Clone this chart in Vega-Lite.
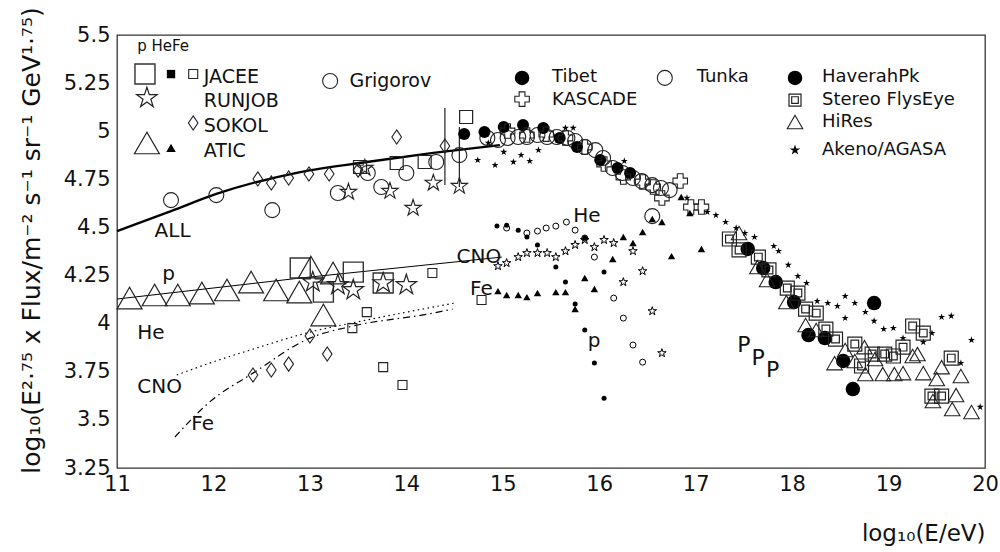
{
"$schema":"https://vega.github.io/schema/vega-lite/v6.json",
"width":868,"height":433,
"autosize":{"type":"none"},
"padding":{"left":117,"top":35,"right":15,"bottom":84},
"background":"white",
"config":{"view":{"stroke":"#333","strokeWidth":1.3},"font":"DejaVu Sans"},
"datasets":{
"lines":[
{"c":"ALL","x":11.00,"y":4.481},{"c":"ALL","x":11.56,"y":4.585},{"c":"ALL","x":12.03,"y":4.674},{"c":"ALL","x":12.90,"y":4.788},{"c":"ALL","x":13.59,"y":4.840},{"c":"ALL","x":14.28,"y":4.887},{"c":"ALL","x":14.97,"y":4.928},
{"c":"p","x":11.00,"y":4.128},{"c":"p","x":12.90,"y":4.237},{"c":"p","x":14.99,"y":4.346},
{"c":"CNO","x":11.62,"y":3.733},{"c":"CNO","x":11.96,"y":3.795},{"c":"CNO","x":12.38,"y":3.863},{"c":"CNO","x":13.00,"y":3.956},{"c":"CNO","x":13.59,"y":4.019},{"c":"CNO","x":14.50,"y":4.107},
{"c":"Fe","x":11.60,"y":3.411},{"c":"Fe","x":11.96,"y":3.593},{"c":"Fe","x":12.41,"y":3.743},{"c":"Fe","x":13.00,"y":3.925},{"c":"Fe","x":13.45,"y":3.988},{"c":"Fe","x":14.28,"y":4.055},{"c":"Fe","x":14.48,"y":4.076}
],
"bars":[{"x":14.40,"y":5.121,"y2":4.720},{"x":14.55,"y":5.022,"y2":4.710}],
"labels":[
{"t":"ALL","x":11.39,"y":4.450,"g":"c"},{"t":"p","x":11.47,"y":4.227,"g":"c"},{"t":"He","x":11.21,"y":3.920,"g":"c"},{"t":"CNO","x":11.21,"y":3.639,"g":"c"},{"t":"Fe","x":11.77,"y":3.447,"g":"c"},
{"t":"CNO","x":14.52,"y":4.315,"g":"c"},{"t":"Fe","x":14.66,"y":4.149,"g":"c"},{"t":"He","x":15.73,"y":4.528,"g":"c"},{"t":"p","x":15.88,"y":3.878,"g":"c"},
{"t":"P","x":17.43,"y":3.852,"g":"P"},{"t":"P","x":17.58,"y":3.785,"g":"P"},{"t":"P","x":17.73,"y":3.722,"g":"P"},
{"t":"p HeFe","x":11.21,"y":5.417,"g":"h"},
{"t":"JACEE","x":11.90,"y":5.251,"g":"L"},{"t":"RUNJOB","x":11.90,"y":5.126,"g":"L"},{"t":"SOKOL","x":11.90,"y":4.996,"g":"L"},{"t":"ATIC","x":11.90,"y":4.866,"g":"L"},{"t":"Grigorov","x":13.41,"y":5.230,"g":"L"},
{"t":"Tibet","x":15.51,"y":5.256,"g":"R"},{"t":"KASCADE","x":15.51,"y":5.136,"g":"R"},{"t":"Tunka","x":17.01,"y":5.256,"g":"R"},{"t":"HaverahPk","x":18.31,"y":5.256,"g":"R"},{"t":"Stereo FlysEye","x":18.31,"y":5.136,"g":"R"},{"t":"HiRes","x":18.31,"y":5.022,"g":"R"},{"t":"Akeno/AGASA","x":18.31,"y":4.876,"g":"R"}
],
"pts":[
{"s":"JACEE p","x":12.90,"y":4.289},{"s":"JACEE p","x":13.14,"y":4.164},{"s":"JACEE p","x":13.45,"y":4.268},{"s":"JACEE p","x":13.76,"y":4.211},
{"s":"JACEE all","x":13.52,"y":4.814},{"s":"JACEE all","x":13.90,"y":4.835},{"s":"JACEE all","x":14.19,"y":4.840},{"s":"JACEE all","x":14.62,"y":5.074},
{"s":"JACEE Fe","x":14.27,"y":4.263},{"s":"JACEE Fe","x":13.59,"y":4.060},{"s":"JACEE Fe","x":13.44,"y":3.977},{"s":"JACEE Fe","x":13.76,"y":3.774},{"s":"JACEE Fe","x":13.96,"y":3.681},{"s":"JACEE Fe","x":14.78,"y":4.123},
{"s":"RUNJOB p","x":13.03,"y":4.216},{"s":"RUNJOB p","x":13.29,"y":4.201},{"s":"RUNJOB p","x":13.45,"y":4.175},{"s":"RUNJOB p","x":13.76,"y":4.211},{"s":"RUNJOB p","x":14.00,"y":4.201},
{"s":"RUNJOB all","x":13.40,"y":4.684},{"s":"RUNJOB all","x":13.57,"y":4.809},{"s":"RUNJOB all","x":13.83,"y":4.689},{"s":"RUNJOB all","x":14.07,"y":4.601},{"s":"RUNJOB all","x":14.28,"y":4.731},{"s":"RUNJOB all","x":14.55,"y":4.715},
{"s":"SOKOL","x":12.46,"y":4.752},{"s":"SOKOL","x":12.60,"y":4.731},{"s":"SOKOL","x":12.78,"y":4.757},{"s":"SOKOL","x":12.99,"y":4.778},{"s":"SOKOL","x":13.20,"y":4.778},{"s":"SOKOL","x":13.50,"y":4.798},{"s":"SOKOL","x":13.90,"y":4.970},{"s":"SOKOL","x":14.40,"y":4.923},
{"s":"SOKOL","x":12.41,"y":3.733},{"s":"SOKOL","x":12.60,"y":3.759},{"s":"SOKOL","x":12.78,"y":3.790},{"s":"SOKOL","x":13.00,"y":3.936},{"s":"SOKOL","x":13.18,"y":3.842},
{"s":"ATIC p","x":11.13,"y":4.133},{"s":"ATIC p","x":11.39,"y":4.149},{"s":"ATIC p","x":11.63,"y":4.149},{"s":"ATIC p","x":11.88,"y":4.159},{"s":"ATIC p","x":12.14,"y":4.175},{"s":"ATIC p","x":12.39,"y":4.216},{"s":"ATIC p","x":12.65,"y":4.175},{"s":"ATIC p","x":12.89,"y":4.164},{"s":"ATIC p","x":13.01,"y":4.294},{"s":"ATIC p","x":13.24,"y":4.263},{"s":"ATIC p","x":13.14,"y":4.045},
{"s":"Grigorov","x":11.56,"y":4.642},{"s":"Grigorov","x":12.03,"y":4.668},{"s":"Grigorov","x":12.61,"y":4.590},{"s":"Grigorov","x":13.29,"y":4.679},{"s":"Grigorov","x":13.60,"y":4.783},{"s":"Grigorov","x":13.74,"y":4.710},{"s":"Grigorov","x":14.00,"y":4.783},{"s":"Grigorov","x":14.31,"y":4.840},{"s":"Grigorov","x":14.55,"y":4.876},
{"s":"Tibet","x":14.60,"y":4.985},{"s":"Tibet","x":14.81,"y":4.996},{"s":"Tibet","x":15.01,"y":5.022},{"s":"Tibet","x":15.21,"y":5.032},{"s":"Tibet","x":15.42,"y":5.017},{"s":"Tibet","x":15.59,"y":4.965},{"s":"Tibet","x":15.77,"y":4.918},{"s":"Tibet","x":16.01,"y":4.850},{"s":"Tibet","x":16.19,"y":4.809},{"s":"Tibet","x":16.32,"y":4.783},
{"s":"Tunka","x":14.84,"y":4.965},{"s":"Tunka","x":14.95,"y":4.954},{"s":"Tunka","x":15.05,"y":4.965},{"s":"Tunka","x":15.16,"y":4.970},{"s":"Tunka","x":15.25,"y":4.970},{"s":"Tunka","x":15.36,"y":4.980},{"s":"Tunka","x":15.46,"y":4.970},{"s":"Tunka","x":15.56,"y":4.970},{"s":"Tunka","x":15.67,"y":4.965},{"s":"Tunka","x":15.75,"y":4.949},{"s":"Tunka","x":15.85,"y":4.918},{"s":"Tunka","x":15.96,"y":4.902},{"s":"Tunka","x":16.04,"y":4.861},{"s":"Tunka","x":16.14,"y":4.809},{"s":"Tunka","x":16.24,"y":4.783},{"s":"Tunka","x":16.35,"y":4.757},{"s":"Tunka","x":16.44,"y":4.741},{"s":"Tunka","x":16.55,"y":4.720},{"s":"Tunka","x":16.64,"y":4.705},{"s":"Tunka","x":16.73,"y":4.694},{"s":"Tunka","x":16.55,"y":4.559},
{"s":"KASCADE","x":15.05,"y":5.001},{"s":"KASCADE","x":15.25,"y":4.980},{"s":"KASCADE","x":15.45,"y":4.985},{"s":"KASCADE","x":15.65,"y":4.965},{"s":"KASCADE","x":15.85,"y":4.918},{"s":"KASCADE","x":16.05,"y":4.830},{"s":"KASCADE","x":16.25,"y":4.762},{"s":"KASCADE","x":16.45,"y":4.736},{"s":"KASCADE","x":16.56,"y":4.710},{"s":"KASCADE","x":16.65,"y":4.653},{"s":"KASCADE","x":16.84,"y":4.741},{"s":"KASCADE","x":16.95,"y":4.606},{"s":"KASCADE","x":17.06,"y":4.606},
{"s":"AGASA","x":14.74,"y":4.850},{"s":"AGASA","x":14.85,"y":4.939},{"s":"AGASA","x":14.92,"y":4.824},{"s":"AGASA","x":15.01,"y":4.892},{"s":"AGASA","x":15.11,"y":4.840},{"s":"AGASA","x":15.19,"y":4.876},{"s":"AGASA","x":15.28,"y":4.845},{"s":"AGASA","x":15.37,"y":4.902},{"s":"AGASA","x":15.65,"y":5.017},{"s":"AGASA","x":15.73,"y":5.017},{"s":"AGASA","x":16.26,"y":4.845},{"s":"AGASA","x":16.91,"y":4.653},{"s":"AGASA","x":17.12,"y":4.580},{"s":"AGASA","x":17.21,"y":4.564},{"s":"AGASA","x":17.31,"y":4.528},{"s":"AGASA","x":17.42,"y":4.497},{"s":"AGASA","x":17.51,"y":4.471},{"s":"AGASA","x":17.61,"y":4.450},{"s":"AGASA","x":17.81,"y":4.403},{"s":"AGASA","x":17.86,"y":4.377},{"s":"AGASA","x":17.96,"y":4.305},{"s":"AGASA","x":18.06,"y":4.247},{"s":"AGASA","x":18.15,"y":4.211},{"s":"AGASA","x":18.26,"y":4.117},{"s":"AGASA","x":18.37,"y":4.107},{"s":"AGASA","x":18.47,"y":4.091},{"s":"AGASA","x":18.55,"y":4.143},{"s":"AGASA","x":18.65,"y":4.107},{"s":"AGASA","x":18.55,"y":4.029},{"s":"AGASA","x":18.76,"y":4.060},{"s":"AGASA","x":18.85,"y":4.014},{"s":"AGASA","x":18.95,"y":3.972},{"s":"AGASA","x":19.05,"y":3.977},{"s":"AGASA","x":19.15,"y":3.925},{"s":"AGASA","x":19.36,"y":3.904},{"s":"AGASA","x":19.45,"y":3.951},{"s":"AGASA","x":19.55,"y":4.034},{"s":"AGASA","x":19.65,"y":4.040},{"s":"AGASA","x":19.75,"y":3.795},{"s":"AGASA","x":19.86,"y":3.915},{"s":"AGASA","x":19.95,"y":3.567},
{"s":"HaverahPk","x":17.54,"y":4.388},{"s":"HaverahPk","x":17.70,"y":4.289},{"s":"HaverahPk","x":17.83,"y":4.216},{"s":"HaverahPk","x":18.02,"y":4.112},{"s":"HaverahPk","x":18.17,"y":3.941},{"s":"HaverahPk","x":18.34,"y":3.925},{"s":"HaverahPk","x":18.53,"y":3.806},{"s":"HaverahPk","x":18.63,"y":3.660},{"s":"HaverahPk","x":18.85,"y":4.107},
{"s":"FlysEye","x":17.35,"y":4.440},{"s":"FlysEye","x":17.45,"y":4.383},{"s":"FlysEye","x":17.65,"y":4.346},{"s":"FlysEye","x":17.76,"y":4.279},{"s":"FlysEye","x":17.95,"y":4.185},{"s":"FlysEye","x":18.06,"y":4.159},{"s":"FlysEye","x":18.14,"y":4.076},{"s":"FlysEye","x":18.25,"y":4.055},{"s":"FlysEye","x":18.35,"y":3.972},{"s":"FlysEye","x":18.45,"y":3.920},{"s":"FlysEye","x":18.65,"y":3.894},{"s":"FlysEye","x":18.72,"y":3.780},{"s":"FlysEye","x":18.83,"y":3.842},{"s":"FlysEye","x":18.96,"y":3.842},{"s":"FlysEye","x":19.05,"y":3.832},{"s":"FlysEye","x":19.15,"y":3.878},{"s":"FlysEye","x":19.25,"y":3.988},{"s":"FlysEye","x":19.36,"y":3.951},{"s":"FlysEye","x":19.65,"y":3.821},{"s":"FlysEye","x":19.45,"y":3.624},{"s":"FlysEye","x":19.55,"y":3.624},
{"s":"HiRes","x":17.45,"y":4.471},{"s":"HiRes","x":17.64,"y":4.294},{"s":"HiRes","x":17.74,"y":4.227},{"s":"HiRes","x":17.94,"y":4.112},{"s":"HiRes","x":18.14,"y":3.993},{"s":"HiRes","x":18.25,"y":3.967},{"s":"HiRes","x":18.55,"y":3.863},{"s":"HiRes","x":18.44,"y":3.795},{"s":"HiRes","x":18.65,"y":3.806},{"s":"HiRes","x":18.75,"y":3.878},{"s":"HiRes","x":18.76,"y":3.738},{"s":"HiRes","x":18.86,"y":3.816},{"s":"HiRes","x":18.94,"y":3.738},{"s":"HiRes","x":19.06,"y":3.738},{"s":"HiRes","x":19.15,"y":3.743},{"s":"HiRes","x":19.25,"y":3.832},{"s":"HiRes","x":19.30,"y":3.842},{"s":"HiRes","x":19.36,"y":3.743},{"s":"HiRes","x":19.50,"y":3.712},{"s":"HiRes","x":19.55,"y":3.774},{"s":"HiRes","x":19.75,"y":3.728},{"s":"HiRes","x":19.70,"y":3.629},{"s":"HiRes","x":19.46,"y":3.598},{"s":"HiRes","x":19.66,"y":3.556},{"s":"HiRes","x":19.86,"y":3.541},
{"s":"comp p","x":14.94,"y":4.507},{"s":"comp p","x":15.04,"y":4.512},{"s":"comp p","x":15.16,"y":4.486},{"s":"comp p","x":15.25,"y":4.450},{"s":"comp p","x":15.36,"y":4.409},{"s":"comp p","x":15.55,"y":4.294},{"s":"comp p","x":15.65,"y":4.216},{"s":"comp p","x":15.75,"y":4.102},{"s":"comp p","x":15.85,"y":3.967},{"s":"comp p","x":15.95,"y":3.795},{"s":"comp p","x":16.05,"y":3.613},{"s":"comp p","x":16.05,"y":4.268},{"s":"comp p","x":15.85,"y":4.445},
{"s":"comp He","x":15.04,"y":4.497},{"s":"comp He","x":15.25,"y":4.471},{"s":"comp He","x":15.36,"y":4.481},{"s":"comp He","x":15.45,"y":4.497},{"s":"comp He","x":15.55,"y":4.507},{"s":"comp He","x":15.66,"y":4.528},{"s":"comp He","x":15.75,"y":4.486},{"s":"comp He","x":15.85,"y":4.445},{"s":"comp He","x":15.95,"y":4.346},{"s":"comp He","x":16.15,"y":4.133},{"s":"comp He","x":16.25,"y":4.029},{"s":"comp He","x":16.35,"y":3.889},{"s":"comp He","x":16.45,"y":3.800},
{"s":"comp CNO","x":14.95,"y":4.299},{"s":"comp CNO","x":15.04,"y":4.315},{"s":"comp CNO","x":15.16,"y":4.346},{"s":"comp CNO","x":15.25,"y":4.367},{"s":"comp CNO","x":15.36,"y":4.367},{"s":"comp CNO","x":15.46,"y":4.367},{"s":"comp CNO","x":15.55,"y":4.346},{"s":"comp CNO","x":15.65,"y":4.377},{"s":"comp CNO","x":15.75,"y":4.409},{"s":"comp CNO","x":15.85,"y":4.435},{"s":"comp CNO","x":15.95,"y":4.398},{"s":"comp CNO","x":16.05,"y":4.435},{"s":"comp CNO","x":16.15,"y":4.419},{"s":"comp CNO","x":16.35,"y":4.377},{"s":"comp CNO","x":16.45,"y":4.273},{"s":"comp CNO","x":16.25,"y":4.216},{"s":"comp CNO","x":16.55,"y":4.065},{"s":"comp CNO","x":16.65,"y":3.847},
{"s":"comp Fe","x":14.95,"y":4.169},{"s":"comp Fe","x":15.04,"y":4.149},{"s":"comp Fe","x":15.16,"y":4.149},{"s":"comp Fe","x":15.25,"y":4.138},{"s":"comp Fe","x":15.36,"y":4.159},{"s":"comp Fe","x":15.55,"y":4.164},{"s":"comp Fe","x":15.65,"y":4.164},{"s":"comp Fe","x":15.75,"y":4.076},{"s":"comp Fe","x":15.85,"y":4.237},{"s":"comp Fe","x":15.95,"y":4.180},{"s":"comp Fe","x":16.14,"y":4.336},{"s":"comp Fe","x":16.25,"y":4.450},{"s":"comp Fe","x":16.35,"y":4.419},{"s":"comp Fe","x":16.45,"y":4.476},{"s":"comp Fe","x":16.55,"y":4.544},{"s":"comp Fe","x":16.65,"y":4.528},{"s":"comp Fe","x":16.75,"y":4.351},{"s":"comp Fe","x":17.06,"y":4.388},{"s":"comp Fe","x":16.85,"y":4.658},{"s":"comp Fe","x":16.94,"y":4.575},
{"s":"key JACEE p","x":11.29,"y":5.297},{"s":"key JACEE He","x":11.56,"y":5.297},{"s":"key JACEE Fe","x":11.79,"y":5.297},
{"s":"key RUNJOB","x":11.31,"y":5.173},{"s":"key SOKOL","x":11.79,"y":5.043},{"s":"key ATIC p","x":11.31,"y":4.939},{"s":"key ATIC He","x":11.56,"y":4.913},
{"s":"key Grigorov","x":13.21,"y":5.261},{"s":"key Tibet","x":15.20,"y":5.277},{"s":"key KASCADE","x":15.20,"y":5.167},{"s":"key Tunka","x":16.68,"y":5.277},
{"s":"key HaverahPk","x":18.03,"y":5.277},{"s":"key FlysEye","x":18.03,"y":5.162},{"s":"key HiRes","x":18.03,"y":5.048},{"s":"key AGASA","x":18.03,"y":4.902}
]
},
"encoding":{
"x":{"field":"x","type":"quantitative","scale":{"domain":[11,20],"nice":false,"zero":false},
 "axis":{"orient":"bottom","values":[11,12,13,14,15,16,17,18,19,20],"labelExpr":"'' + datum.value","ticks":false,"domain":false,"grid":false,"labelPadding":5,"labelFlush":false,"labelOverlap":false,"labelBound":false,"labelFontSize":21,"labelFont":"DejaVu Sans","labelColor":"#111",
  "title":"log₁₀(E/eV)","titleX":868,"titleY":72,"titleAlign":"right","titleAnchor":"end","titleBaseline":"alphabetic","titleFontSize":23,"titleFont":"DejaVu Sans","titleFontWeight":"normal","titleColor":"#111"}},
"y":{"field":"y","type":"quantitative","scale":{"domain":[3.25,5.5],"nice":false,"zero":false},
 "axis":{"orient":"left","values":[3.25,3.5,3.75,4,4.25,4.5,4.75,5,5.25,5.5],"labelExpr":"'' + datum.value","ticks":false,"domain":false,"grid":false,"labelPadding":7,"labelFlush":false,"labelOverlap":false,"labelBound":false,"labelFontSize":21,"labelFont":"DejaVu Sans","labelColor":"#111",
  "title":"log₁₀(E²·⁷⁵ x Flux/m⁻² s⁻¹ sr⁻¹ GeV¹·⁷⁵)","titleX":-78,"titleY":205,"titleAngle":-90,"titleAlign":"center","titleBaseline":"alphabetic","titleFontSize":25,"titleFont":"DejaVu Sans","titleFontWeight":"normal","titleColor":"#111"}}
},
"layer":[
{"data":{"name":"lines"},"transform":[{"filter":"datum.c==='ALL'"}],
 "mark":{"type":"line","color":"black","strokeWidth":2.3,"interpolate":"monotone"}},
{"data":{"name":"lines"},"transform":[{"filter":"datum.c==='p'"}],
 "mark":{"type":"line","color":"black","strokeWidth":1}},
{"data":{"name":"lines"},"transform":[{"filter":"datum.c==='CNO'"}],
 "mark":{"type":"line","color":"black","strokeWidth":1.2,"strokeDash":[1.5,3.5],"interpolate":"monotone"}},
{"data":{"name":"lines"},"transform":[{"filter":"datum.c==='Fe'"}],
 "mark":{"type":"line","color":"black","strokeWidth":1.2,"strokeDash":[7,4,1.5,4],"interpolate":"monotone"}},
{"data":{"name":"bars"},"mark":{"type":"rule","color":"#222","strokeWidth":1.2},"encoding":{"y2":{"field":"y2"}}},
{"data":{"name":"pts"},"transform":[{"filter":{"field":"s","oneOf":["JACEE p","key JACEE p"]}}],"mark":{"type":"point","shape":"square","size":400,"filled":false,"color":"#333","strokeWidth":1.4,"opacity":1}},
{"data":{"name":"pts"},"transform":[{"filter":{"field":"s","oneOf":["JACEE all"]}}],"mark":{"type":"point","shape":"square","size":169,"filled":false,"color":"#222","strokeWidth":1.2,"opacity":1}},
{"data":{"name":"pts"},"transform":[{"filter":{"field":"s","oneOf":["JACEE Fe","key JACEE Fe"]}}],"mark":{"type":"point","shape":"square","size":81,"filled":false,"color":"#222","strokeWidth":1.1,"opacity":1}},
{"data":{"name":"pts"},"transform":[{"filter":{"field":"s","oneOf":["key JACEE He"]}}],"mark":{"type":"point","shape":"square","size":70,"filled":true,"color":"black","opacity":1}},
{"data":{"name":"pts"},"transform":[{"filter":{"field":"s","oneOf":["RUNJOB p","key RUNJOB"]}}],"mark":{"type":"point","shape":"M0,-1L0.2245,-0.309L0.9511,-0.309L0.3633,0.118L0.5878,0.809L0,0.382L-0.5878,0.809L-0.3633,0.118L-0.9511,-0.309L-0.2245,-0.309Z","size":460,"filled":false,"color":"#222","strokeWidth":1.2,"opacity":1}},
{"data":{"name":"pts"},"transform":[{"filter":{"field":"s","oneOf":["RUNJOB all"]}}],"mark":{"type":"point","shape":"M0,-1L0.2245,-0.309L0.9511,-0.309L0.3633,0.118L0.5878,0.809L0,0.382L-0.5878,0.809L-0.3633,0.118L-0.9511,-0.309L-0.2245,-0.309Z","size":300,"filled":false,"color":"#222","strokeWidth":1.1,"opacity":1}},
{"data":{"name":"pts"},"transform":[{"filter":{"field":"s","oneOf":["SOKOL","key SOKOL"]}}],"mark":{"type":"point","shape":"M0,-1L0.68,0L0,1L-0.68,0Z","size":200,"filled":false,"color":"#222","strokeWidth":1.1,"opacity":1}},
{"data":{"name":"pts"},"transform":[{"filter":{"field":"s","oneOf":["ATIC p","key ATIC p"]}}],"mark":{"type":"point","shape":"triangle-up","size":620,"filled":false,"color":"#222","strokeWidth":1.2,"opacity":1}},
{"data":{"name":"pts"},"transform":[{"filter":{"field":"s","oneOf":["key ATIC He"]}}],"mark":{"type":"point","shape":"triangle-up","size":90,"filled":true,"color":"black","opacity":1}},
{"data":{"name":"pts"},"transform":[{"filter":{"field":"s","oneOf":["Grigorov","Tunka","key Grigorov","key Tunka"]}}],"mark":{"type":"point","shape":"circle","size":225,"filled":false,"color":"#222","strokeWidth":1.1,"opacity":1}},
{"data":{"name":"pts"},"transform":[{"filter":{"field":"s","oneOf":["Tibet"]}}],"mark":{"type":"point","shape":"circle","size":144,"filled":true,"color":"black","opacity":1}},
{"data":{"name":"pts"},"transform":[{"filter":{"field":"s","oneOf":["HaverahPk","key Tibet","key HaverahPk"]}}],"mark":{"type":"point","shape":"circle","size":210,"filled":true,"color":"black","opacity":1}},
{"data":{"name":"pts"},"transform":[{"filter":{"field":"s","oneOf":["KASCADE","key KASCADE"]}}],"mark":{"type":"point","shape":"cross","size":210,"filled":false,"color":"#222","strokeWidth":1.1,"opacity":1}},
{"data":{"name":"pts"},"transform":[{"filter":{"field":"s","oneOf":["AGASA"]}}],"mark":{"type":"point","shape":"M0,-1L0.2245,-0.309L0.9511,-0.309L0.3633,0.118L0.5878,0.809L0,0.382L-0.5878,0.809L-0.3633,0.118L-0.9511,-0.309L-0.2245,-0.309Z","size":55,"filled":true,"color":"black","opacity":1}},
{"data":{"name":"pts"},"transform":[{"filter":{"field":"s","oneOf":["key AGASA"]}}],"mark":{"type":"point","shape":"M0,-1L0.2245,-0.309L0.9511,-0.309L0.3633,0.118L0.5878,0.809L0,0.382L-0.5878,0.809L-0.3633,0.118L-0.9511,-0.309L-0.2245,-0.309Z","size":120,"filled":true,"color":"black","opacity":1}},
{"data":{"name":"pts"},"transform":[{"filter":{"field":"s","oneOf":["FlysEye"]}}],"mark":{"type":"point","shape":"M-1,-1L1,-1L1,1L-1,1Z M-0.55,-0.55L0.55,-0.55L0.55,0.55L-0.55,0.55Z","size":196,"filled":false,"color":"#222","strokeWidth":1.2,"opacity":1}},
{"data":{"name":"pts"},"transform":[{"filter":{"field":"s","oneOf":["key FlysEye"]}}],"mark":{"type":"point","shape":"M-1,-1L1,-1L1,1L-1,1Z M-0.55,-0.55L0.55,-0.55L0.55,0.55L-0.55,0.55Z","size":144,"filled":false,"color":"#222","strokeWidth":1.2,"opacity":1}},
{"data":{"name":"pts"},"transform":[{"filter":{"field":"s","oneOf":["HiRes","key HiRes"]}}],"mark":{"type":"point","shape":"triangle-up","size":240,"filled":false,"color":"#222","strokeWidth":1.1,"opacity":1}},
{"data":{"name":"pts"},"transform":[{"filter":{"field":"s","oneOf":["comp p"]}}],"mark":{"type":"point","shape":"circle","size":25,"filled":true,"color":"black","opacity":1}},
{"data":{"name":"pts"},"transform":[{"filter":{"field":"s","oneOf":["comp He"]}}],"mark":{"type":"point","shape":"circle","size":36,"filled":false,"color":"black","strokeWidth":1,"opacity":1}},
{"data":{"name":"pts"},"transform":[{"filter":{"field":"s","oneOf":["comp CNO"]}}],"mark":{"type":"point","shape":"M0,-1L0.2245,-0.309L0.9511,-0.309L0.3633,0.118L0.5878,0.809L0,0.382L-0.5878,0.809L-0.3633,0.118L-0.9511,-0.309L-0.2245,-0.309Z","size":80,"filled":false,"color":"black","strokeWidth":1,"opacity":1}},
{"data":{"name":"pts"},"transform":[{"filter":{"field":"s","oneOf":["comp Fe"]}}],"mark":{"type":"point","shape":"triangle-up","size":55,"filled":true,"color":"black","opacity":1}},
{"data":{"name":"labels"},"transform":[{"filter":"datum.g==='c'"}],"mark":{"type":"text","align":"left","baseline":"alphabetic","font":"DejaVu Sans","fontSize":20,"color":"#111"},"encoding":{"text":{"field":"t"}}},
{"data":{"name":"labels"},"transform":[{"filter":"datum.g==='P'"}],"mark":{"type":"text","align":"left","baseline":"alphabetic","font":"DejaVu Sans","fontSize":22,"color":"#111"},"encoding":{"text":{"field":"t"}}},
{"data":{"name":"labels"},"transform":[{"filter":"datum.g==='h'"}],"mark":{"type":"text","align":"left","baseline":"alphabetic","font":"DejaVu Sans","fontSize":15,"color":"#111"},"encoding":{"text":{"field":"t"}}},
{"data":{"name":"labels"},"transform":[{"filter":"datum.g==='L'"}],"mark":{"type":"text","align":"left","baseline":"alphabetic","font":"DejaVu Sans","fontSize":19,"color":"#111"},"encoding":{"text":{"field":"t"}}},
{"data":{"name":"labels"},"transform":[{"filter":"datum.g==='R'"}],"mark":{"type":"text","align":"left","baseline":"alphabetic","font":"DejaVu Sans","fontSize":18,"color":"#111"},"encoding":{"text":{"field":"t"}}}
]
}
